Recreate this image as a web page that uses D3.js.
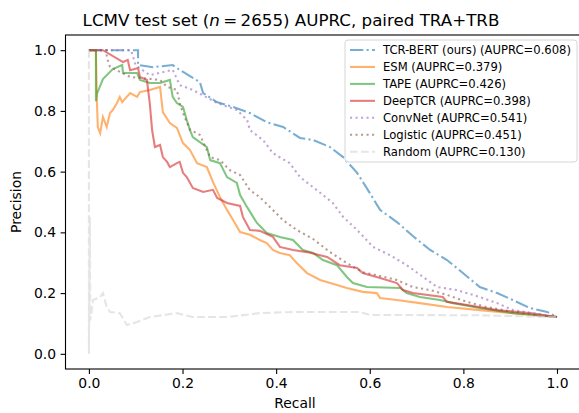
<!DOCTYPE html>
<html>
<head>
<meta charset="utf-8">
<script src="https://cdn.jsdelivr.net/npm/d3@7"></script>
<style>
  body { margin: 0; background: #fff; }
  svg { display: block; font-family: "DejaVu Sans", sans-serif; }
</style>
</head>
<body>
<div id="chart"></div>
<script>
'use strict';

// ticks
const xTicks = [0.0, 0.2, 0.4, 0.6, 0.8, 1.0];
const yTicks = [0.0, 0.2, 0.4, 0.6, 0.8, 1.0];

// [recall, precision]
const tcrBert = [[0,1.0],[0.105,1.0],[0.105,0.951],[0.137,0.944],[0.179,0.951],[0.194,0.935],[0.237,0.895],[0.244,0.859],[0.273,0.829],[0.308,0.813],[0.344,0.793],[0.380,0.763],[0.415,0.747],[0.451,0.711],[0.479,0.704],[0.515,0.681],[0.543,0.648],[0.573,0.596],[0.600,0.530],[0.622,0.474],[0.658,0.434],[0.692,0.388],[0.729,0.342],[0.765,0.309],[0.799,0.266],[0.835,0.220],[0.872,0.200],[0.906,0.177],[0.942,0.151],[0.979,0.138],[1.0,0.121]];
const esm = [[0,1.0],[0.015,1.0],[0.017,0.836],[0.019,0.747],[0.024,0.727],[0.030,0.780],[0.038,0.747],[0.045,0.793],[0.051,0.803],[0.060,0.826],[0.066,0.846],[0.071,0.829],[0.088,0.859],[0.103,0.846],[0.109,0.862],[0.130,0.869],[0.152,0.879],[0.158,0.796],[0.173,0.760],[0.188,0.744],[0.201,0.694],[0.216,0.671],[0.231,0.628],[0.252,0.615],[0.265,0.566],[0.280,0.516],[0.295,0.474],[0.308,0.441],[0.323,0.401],[0.344,0.392],[0.365,0.375],[0.380,0.365],[0.393,0.342],[0.408,0.332],[0.429,0.325],[0.444,0.299],[0.466,0.266],[0.494,0.243],[0.530,0.227],[0.551,0.217],[0.585,0.204],[0.615,0.200],[0.622,0.184],[0.658,0.177],[0.707,0.167],[0.765,0.154],[0.835,0.144],[0.906,0.134],[1.0,0.121]];
const tape = [[0,1.0],[0.015,1.0],[0.015,0.832],[0.017,0.856],[0.030,0.905],[0.051,0.938],[0.071,0.951],[0.073,0.925],[0.103,0.925],[0.109,0.902],[0.130,0.892],[0.152,0.892],[0.173,0.902],[0.179,0.846],[0.188,0.826],[0.201,0.813],[0.209,0.770],[0.216,0.737],[0.222,0.714],[0.252,0.681],[0.259,0.638],[0.280,0.628],[0.295,0.582],[0.316,0.563],[0.323,0.523],[0.338,0.483],[0.359,0.431],[0.380,0.398],[0.408,0.385],[0.436,0.375],[0.457,0.342],[0.479,0.332],[0.500,0.309],[0.530,0.292],[0.551,0.253],[0.564,0.233],[0.594,0.220],[0.665,0.217],[0.679,0.200],[0.707,0.187],[0.750,0.177],[0.778,0.167],[0.835,0.151],[0.906,0.134],[1.0,0.121]];
const deepTcr = [[0,1.0],[0.030,1.0],[0.073,0.961],[0.083,0.968],[0.088,0.934],[0.105,0.941],[0.109,0.912],[0.124,0.902],[0.126,0.875],[0.130,0.826],[0.135,0.737],[0.141,0.681],[0.152,0.688],[0.158,0.648],[0.167,0.632],[0.173,0.615],[0.188,0.628],[0.194,0.632],[0.201,0.596],[0.209,0.582],[0.222,0.546],[0.244,0.533],[0.265,0.540],[0.274,0.513],[0.295,0.497],[0.323,0.487],[0.329,0.451],[0.344,0.408],[0.365,0.405],[0.393,0.385],[0.408,0.352],[0.436,0.342],[0.466,0.335],[0.509,0.319],[0.536,0.292],[0.573,0.283],[0.585,0.266],[0.622,0.250],[0.658,0.233],[0.671,0.210],[0.692,0.200],[0.756,0.187],[0.765,0.171],[0.808,0.161],[0.872,0.144],[0.942,0.134],[1.0,0.121]];
const convNet = [[0,1.0],[0.090,1.0],[0.100,0.950],[0.130,0.918],[0.179,0.935],[0.194,0.885],[0.222,0.869],[0.274,0.826],[0.316,0.803],[0.338,0.770],[0.344,0.737],[0.372,0.704],[0.393,0.661],[0.429,0.628],[0.451,0.582],[0.487,0.539],[0.521,0.497],[0.543,0.451],[0.573,0.408],[0.607,0.352],[0.643,0.325],[0.679,0.292],[0.714,0.253],[0.744,0.220],[0.786,0.210],[0.835,0.187],[0.872,0.167],[0.906,0.144],[0.949,0.134],[1.0,0.121]];
const logistic = [[0,1.0],[0.038,1.0],[0.038,0.978],[0.045,0.945],[0.088,0.912],[0.152,0.902],[0.167,0.879],[0.188,0.869],[0.194,0.826],[0.201,0.793],[0.216,0.738],[0.237,0.721],[0.259,0.648],[0.280,0.638],[0.301,0.605],[0.323,0.589],[0.344,0.539],[0.365,0.516],[0.387,0.483],[0.415,0.440],[0.444,0.408],[0.479,0.378],[0.515,0.335],[0.551,0.299],[0.585,0.269],[0.622,0.256],[0.658,0.243],[0.692,0.220],[0.729,0.210],[0.765,0.194],[0.808,0.171],[0.850,0.154],[0.906,0.138],[0.949,0.128],[1.0,0.121]];
const random = [[0,1.0],[0,0.0],[0.002,0.45],[0.003,0.11],[0.009,0.177],[0.024,0.187],[0.030,0.200],[0.038,0.154],[0.045,0.138],[0.066,0.134],[0.081,0.095],[0.103,0.105],[0.130,0.121],[0.188,0.134],[0.222,0.121],[0.295,0.121],[0.365,0.134],[0.436,0.138],[0.579,0.138],[0.600,0.128],[0.830,0.127],[1.0,0.121]];

const seriesNames = ['TCR-BERT (ours)', 'ESM', 'TAPE', 'DeepTCR', 'ConvNet', 'Logistic', 'Random'];
const seriesAuprc = [0.608, 0.379, 0.426, 0.398, 0.541, 0.451, 0.130];
const seriesPoints = [tcrBert, esm, tape, deepTcr, convNet, logistic, random];
const seriesColors = ['#1f77b4', '#ff7f0e', '#2ca02c', '#d62728', '#9467bd', '#8c564b', '#d3d3d3'];
const seriesDash = ['13.3,3.3,2.1,3.3', null, null, null, '2.1,3.4', '2.1,3.4', '7.7,3.3'];

const width = 579, height = 413;
const plot = { left: 65.5, right: 580.4, top: 35, bottom: 369 };

const svg = d3.select('#chart').append('svg')
  .attr('width', width)
  .attr('height', height);

const x = d3.scaleLinear().domain([-0.05, 1.05]).range([plot.left, plot.right]);
const y = d3.scaleLinear().domain([-0.05, 1.05]).range([plot.bottom, plot.top]);

const line = d3.line()
  .x((d) => x(d[0]))
  .y((d) => y(d[1]));

// curves
const curves = svg.append('g');
seriesPoints.forEach((pts, i) => {
  curves.append('path')
    .attr('d', line(pts))
    .attr('fill', 'none')
    .attr('stroke', seriesColors[i])
    .attr('stroke-opacity', 0.6)
    .attr('stroke-width', 2.08)
    .attr('stroke-dasharray', seriesDash[i]);
});

// axes
const xAxis = svg.append('g')
  .attr('transform', `translate(0,${plot.bottom})`)
  .call(d3.axisBottom(x).tickValues(xTicks).tickFormat(d3.format('.1f')).tickSize(4.9).tickPadding(4.5));
const yAxis = svg.append('g')
  .attr('transform', `translate(${plot.left},0)`)
  .call(d3.axisLeft(y).tickValues(yTicks).tickFormat(d3.format('.1f')).tickSize(4.9).tickPadding(4.5));
[xAxis, yAxis].forEach((a) => {
  a.select('.domain').remove();
  a.selectAll('line').attr('stroke', '#000').attr('stroke-width', 1.1);
  a.selectAll('text')
    .attr('fill', '#000')
    .style('font-family', '"DejaVu Sans", sans-serif')
    .style('font-size', '13.9px');
});

// spines
svg.append('rect')
  .attr('x', plot.left)
  .attr('y', plot.top)
  .attr('width', plot.right - plot.left)
  .attr('height', plot.bottom - plot.top)
  .attr('fill', 'none')
  .attr('stroke', '#000')
  .attr('stroke-width', 1.1);

// labels
svg.append('text')
  .attr('x', 295).attr('y', 408)
  .attr('text-anchor', 'middle')
  .style('font-size', '13.9px')
  .text('Recall');
svg.append('text')
  .attr('transform', `translate(21,${(plot.top + plot.bottom) / 2}) rotate(-90)`)
  .attr('text-anchor', 'middle')
  .style('font-size', '13.9px')
  .text('Precision');

const title = svg.append('text')
  .attr('x', 291).attr('y', 26)
  .attr('text-anchor', 'middle')
  .style('font-size', '16.7px');
title.append('tspan').text('LCMV test set (');
title.append('tspan').style('font-style', 'italic').text('n');
title.append('tspan').text('\u2009=\u20092655) AUPRC, paired TRA+TRB');

// legend
const lg = svg.append('g');
lg.append('rect')
  .attr('x', 345).attr('y', 40)
  .attr('width', 232).attr('height', 122)
  .attr('rx', 3)
  .attr('fill', '#fff').attr('fill-opacity', 0.8)
  .attr('stroke', '#d6d6d6').attr('stroke-width', 1);
seriesNames.forEach((name, i) => {
  const row = 50 + i * 16.95;
  lg.append('line')
    .attr('x1', 350).attr('x2', 375)
    .attr('y1', row).attr('y2', row)
    .attr('stroke', seriesColors[i])
    .attr('stroke-opacity', 0.6)
    .attr('stroke-width', 2.08)
    .attr('stroke-dasharray', seriesDash[i]);
  lg.append('text')
    .attr('x', 383).attr('y', row)
    .attr('dy', '0.36em')
    .style('font-size', '11.6px')
    .text(`${name} (AUPRC=${seriesAuprc[i].toFixed(3)})`);
});
</script>
</body>
</html>
